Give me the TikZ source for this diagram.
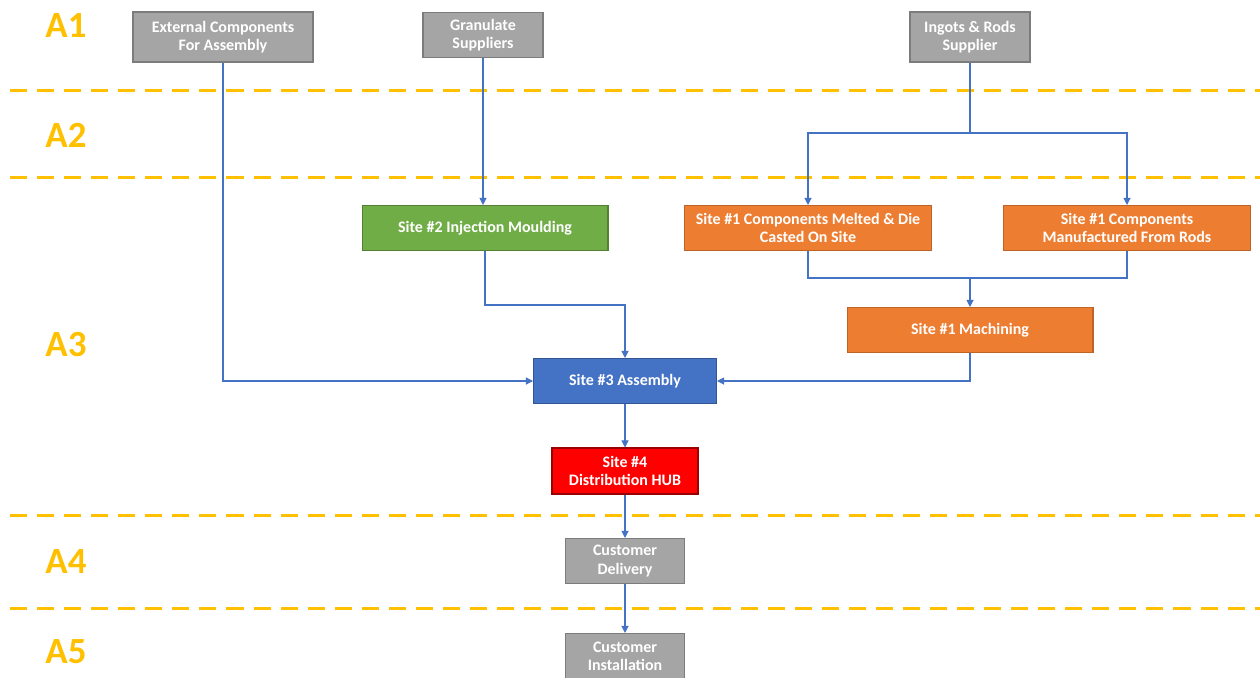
\documentclass[tikz,border=0pt]{standalone}
\usepackage{fontspec}
\setmainfont{Carlito}
\usetikzlibrary{arrows.meta}
\definecolor{lanegold}{HTML}{FFC000}
\definecolor{linkblue}{HTML}{4472C4}
\definecolor{boxgray}{HTML}{A5A5A5}
\definecolor{boxgreen}{HTML}{70AD47}
\definecolor{boxorange}{HTML}{ED7D31}
\definecolor{boxblue}{HTML}{4472C4}
\definecolor{boxred}{HTML}{FF0000}
\begin{document}
\begin{tikzpicture}[x=0.02cm,y=-0.02cm,
  every node/.style={font=\fontsize{9.1}{10.3}\selectfont\bfseries, text=white, align=center, inner sep=1pt, line width=0.6pt},
  gray box/.style={fill=boxgray, draw=boxgray!75!black},
  green box/.style={fill=boxgreen, draw=boxgreen!75!black},
  orange box/.style={fill=boxorange, draw=boxorange!80!black},
  blue box/.style={fill=boxblue, draw=boxblue!75!black},
  red box/.style={fill=boxred, draw=boxred!60!black},
  lane/.style={draw=lanegold, line width=1.7pt, dash pattern=on 9.7pt off 5.7pt},
  lanelabel/.style={font=\fontsize{21}{23}\selectfont\bfseries, text=lanegold},
  link/.style={draw=linkblue, line width=0.6pt},
  arr/.style={link, -{Triangle[width=4pt,length=4pt]}}]
\useasboundingbox (0,0) rectangle (1260,677);
% lanes
\foreach \y in {90,177,515,608}
  \draw[lane] (10,\y) -- (1260,\y);
\node[lanelabel] (a1) at (66,26) {A1};
\node[lanelabel] (a2) at (66,135) {A2};
\node[lanelabel] (a3) at (66,345) {A3};
\node[lanelabel] (a4) at (66,562) {A4};
\node[lanelabel] (a5) at (66,652) {A5};
% boxes
\node[gray box, minimum width=3.6cm, minimum height=1cm] (ext) at (223,37) {External Components\\For Assembly};
\node[gray box, minimum width=2.4cm, minimum height=0.9cm] (gran) at (483,35) {Granulate\\Suppliers};
\node[gray box, minimum width=2.4cm, minimum height=1cm] (ingots) at (970,37) {Ingots \& Rods\\Supplier};
\node[green box, minimum width=4.92cm, minimum height=0.9cm] (inject) at (485,228) {Site \#2 Injection Moulding};
\node[orange box, minimum width=4.94cm, minimum height=0.9cm] (melted) at (808,228) {Site \#1 Components Melted \& Die\\Casted On Site};
\node[orange box, minimum width=4.94cm, minimum height=0.9cm] (rods) at (1127,228) {Site \#1 Components\\Manufactured From Rods};
\node[orange box, minimum width=4.92cm, minimum height=0.9cm] (mach) at (970,330) {Site \#1 Machining};
\node[blue box, minimum width=3.66cm, minimum height=0.9cm] (assembly) at (625,381) {Site \#3 Assembly};
\node[red box, minimum width=2.92cm, minimum height=0.92cm] (hub) at (625,471) {Site \#4\\Distribution HUB};
\node[gray box, minimum width=2.38cm, minimum height=0.9cm] (delivery) at (625,561) {Customer\\Delivery};
\node[gray box, minimum width=2.38cm, minimum height=0.9cm] (install) at (625,656) {Customer\\Installation};
% links
\coordinate (split) at (970,133);
\coordinate (join) at (970,278);
\draw[arr] (gran) -- (gran |- inject.north);
\draw[link] (ingots) -- (split);
\draw[arr] (split) -| (melted);
\draw[arr] (split) -| (rods);
\draw[link] (melted) |- (join);
\draw[link] (rods) |- (join);
\draw[arr] (join) -- (mach);
\draw[arr] (inject) -- (inject |- 0,305) -| (assembly);
\draw[arr] (ext) |- (assembly);
\draw[arr] (mach) |- (assembly);
\draw[arr] (assembly) -- (hub);
\draw[arr] (hub) -- (delivery);
\draw[arr] (delivery) -- (install);
\end{tikzpicture}
\end{document}
